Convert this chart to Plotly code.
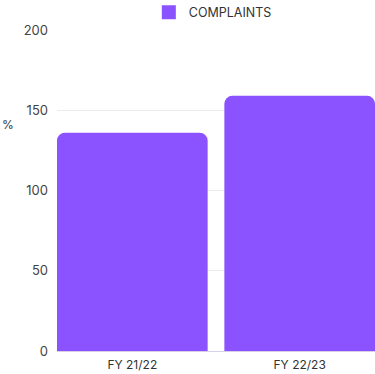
import plotly.graph_objects as go

# Complaint counts per financial year
categories = ["FY 21/22", "FY 22/23"]
complaints = [136, 159]
y_ticks = [0, 50, 100, 150, 200]

bar_color = "#8B52FF"
font_family = "Inter, Open Sans, sans-serif"

fig = go.Figure()

fig.add_trace(
    go.Bar(
        x=categories,
        y=complaints,
        name="COMPLAINTS",
        marker=dict(color=bar_color, line=dict(width=0)),
        showlegend=False,
    )
)

# Square-cornered legend key for the series
fig.add_trace(
    go.Scatter(
        x=[None],
        y=[None],
        mode="markers",
        name="COMPLAINTS",
        marker=dict(symbol="square", size=14, color=bar_color),
        showlegend=True,
    )
)

fig.add_annotation(
    text="%",
    xref="paper", yref="paper",
    x=-57 / 318, y=0.707,
    xanchor="left", yanchor="middle",
    showarrow=False,
    font=dict(family=font_family, size=12, color="#333333"),
)

fig.update_layout(
    width=375,
    height=374,
    margin=dict(l=57, r=0, t=30, b=23, autoexpand=False),
    paper_bgcolor="white",
    plot_bgcolor="white",
    bargap=0.1,
    barcornerradius=8,
    font=dict(family=font_family, size=12, color="#444444"),
    legend=dict(
        orientation="h",
        x=0.49, xanchor="center",
        y=1.054, yanchor="middle",
        font=dict(size=12.5, color="#333333"),
        itemwidth=30,
    ),
    xaxis=dict(
        range=[-0.45, 1.45],
        showgrid=False,
        showline=True,
        linecolor="#d6d0e6",
        linewidth=1,
        ticks="",
        ticklabelstandoff=3,
        tickfont=dict(size=12, color="#333333"),
    ),
    yaxis=dict(
        range=[0, 200],
        tickvals=y_ticks,
        showgrid=True,
        gridcolor="#ebebeb",
        zeroline=False,
        showline=False,
        ticks="",
        ticklabelstandoff=8,
        tickfont=dict(size=13, color="#444444"),
    ),
)

fig.write_html("out.html")
